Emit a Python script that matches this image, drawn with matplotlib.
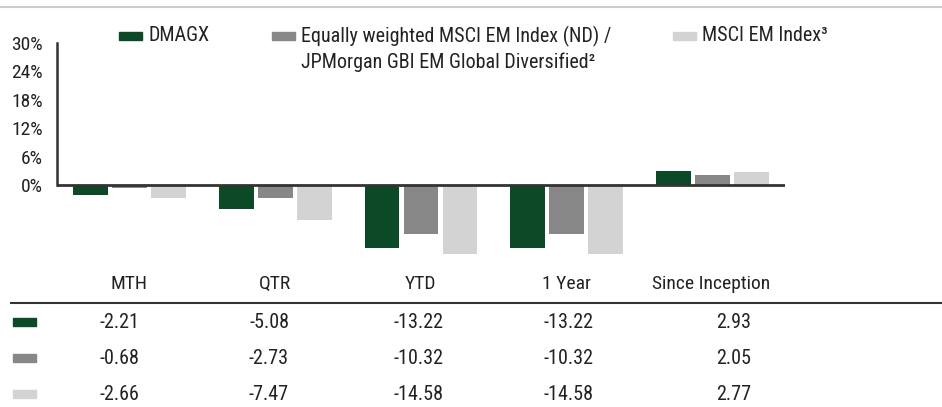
import matplotlib
matplotlib.use("Agg")
import matplotlib.pyplot as plt
from matplotlib.patches import Rectangle
import numpy as np

plt.rcParams['font.family'] = ['Roboto Condensed', 'DejaVu Sans']

categories = ["MTH", "QTR", "YTD", "1 Year", "Since Inception"]
series_names = ["DMAGX",
                "Equally weighted MSCI EM Index (ND) /\nJPMorgan GBI EM Global Diversified\u00b2",
                "MSCI EM Index\u00b3"]
dmagx = [-2.21, -5.08, -13.22, -13.22, 2.93]
eq_weighted = [-0.68, -2.73, -10.32, -10.32, 2.05]
msci_em = [-2.66, -7.47, -14.58, -14.58, 2.77]
yticks = [0, 6, 12, 18, 24, 30]
colors = ["#0C4A27", "#878787", "#D3D3D3"]

W, H = 942, 407
fig = plt.figure(figsize=(W / 100, H / 100), dpi=100)

# main chart axes placed in pixels
x0, x1 = 57, 785
y30, y0 = 43, 185
ybot = 262
px_per_pct = (y0 - y30) / 30.0
ax = fig.add_axes([x0 / W, 1 - ybot / H, (x1 - x0) / W, (ybot - y30) / H])
ax.set_ylim(-(ybot - y0) / px_per_pct, 30)
ax.set_xlim(-0.5, len(categories) - 0.5)

x = np.arange(len(categories))
off = 0.268
bw = 0.24
for i, vals in enumerate([dmagx, eq_weighted, msci_em]):
    ax.bar(x + (i - 1) * off, vals, width=bw, color=colors[i], zorder=2)

ax.axhline(0, color="#333333", lw=2, zorder=3)
for s in ["top", "right", "bottom"]:
    ax.spines[s].set_visible(False)
ax.spines["left"].set_bounds(0, 30)
ax.spines["left"].set_linewidth(1.8)
ax.spines["left"].set_color("#333333")
ax.set_yticks(yticks)
ax.set_yticklabels([f"{t}%" for t in yticks], fontsize=14, color="#222222")
ax.tick_params(axis="y", length=0, pad=10)
ax.set_xticks([])

# overlay in pixel coordinates for legend and table
ov = fig.add_axes([0, 0, 1, 1])
ov.set_xlim(0, W)
ov.set_ylim(H, 0)
ov.axis("off")

ov.plot([0, W], [7, 7], color="#CCCCCC", lw=1.5)

# legend
leg_x = [119, 272, 673]
for i, name in enumerate(series_names):
    ov.add_patch(Rectangle((leg_x[i], 32), 23, 8, color=colors[i]))
    ov.text(leg_x[i] + 29, 26, name, fontsize=14.5, va="top", ha="left",
            color="#222222", linespacing=1.35)

# table
head_x = [129, 275, 420, 566, 711]
val_x = [119, 269, 419, 569, 734]
for cx, c in zip(head_x, categories):
    ov.text(cx, 284, c, fontsize=14, ha="center", va="center", color="#222222")
ov.plot([11, W], [303, 303], color="#333333", lw=1.5)
row_y = [322, 358, 394]
for r, vals in enumerate([dmagx, eq_weighted, msci_em]):
    ov.add_patch(Rectangle((13, row_y[r] - 4), 23, 8, color=colors[r]))
    for cx, v in zip(val_x, vals):
        ov.text(cx, row_y[r], f"{v:.2f}", fontsize=14.5, ha="center", va="center",
                color="#222222")

fig.savefig("out.png", dpi=100)
